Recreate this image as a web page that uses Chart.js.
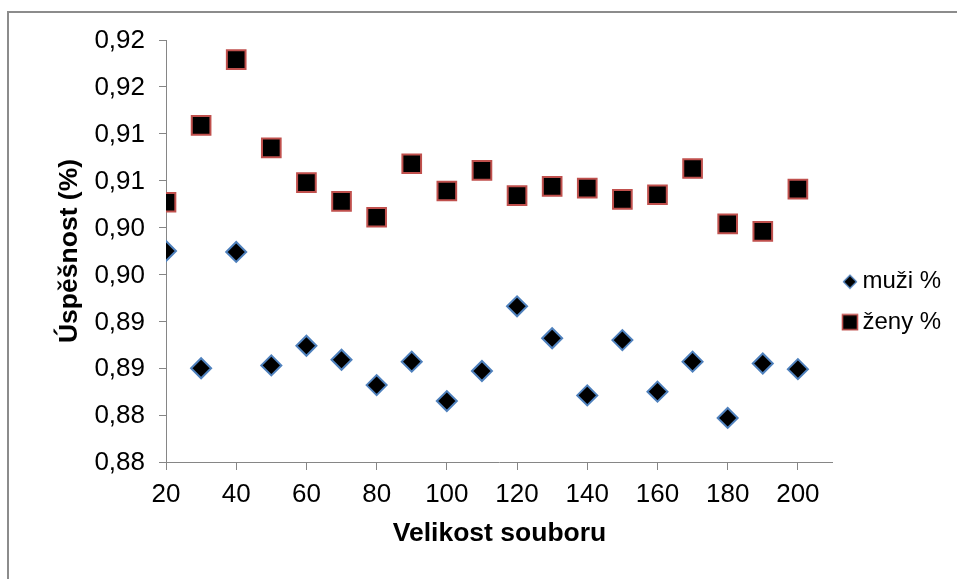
<!DOCTYPE html>
<html><head><meta charset="utf-8">
<script src="https://cdn.jsdelivr.net/npm/chart.js@4"></script>
<style>html,body{margin:0;padding:0;background:#fff;}</style>
</head><body>
<canvas id="c" width="957" height="579"></canvas>
<script>
// ---- data ----
const xValues = [20, 30, 40, 50, 60, 70, 80, 90, 100, 110, 120, 130, 140, 150, 160, 170, 180, 190, 200];
const muziValues = [0.8975, 0.8850, 0.8974, 0.8853, 0.8874, 0.8859, 0.8832, 0.8857, 0.8815, 0.8847,
                    0.8916, 0.8882, 0.8821, 0.8880, 0.8825, 0.8857, 0.8797, 0.8855, 0.8849];
const zenyValues = [0.9027, 0.9109, 0.9179, 0.9085, 0.9048, 0.9028, 0.9011, 0.9068, 0.9039, 0.9061,
                    0.9034, 0.9044, 0.9042, 0.9030, 0.9035, 0.9063, 0.9004, 0.8996, 0.9041];
const seriesNames = ['muži %', 'ženy %'];
const xTickValues = [20, 40, 60, 80, 100, 120, 140, 160, 180, 200];
const xTickLabels = ['20', '40', '60', '80', '100', '120', '140', '160', '180', '200'];
const yTickValues = [0.875, 0.880, 0.885, 0.890, 0.895, 0.900, 0.905, 0.910, 0.915, 0.920];
const yTickLabels = ['0,88', '0,88', '0,89', '0,89', '0,90', '0,90', '0,91', '0,91', '0,92', '0,92'];
const xTitle = 'Velikost souboru';
const yTitle = 'Úspěšnost (%)';

// ---- styles ----
const FONT = "'Liberation Sans', Arial, sans-serif";
const AXIS_GRAY = '#868686';
const BLUE = '#4F81BD';
const RED = '#C0504D';

function makeIcon(kind) {
  const cv = document.createElement('canvas');
  const s = kind === 'diamond' ? 16 : 18;
  cv.width = s; cv.height = s;
  const g = cv.getContext('2d');
  g.fillStyle = '#000';
  if (kind === 'diamond') {
    g.strokeStyle = BLUE; g.lineWidth = 1.3;
    g.beginPath();
    g.moveTo(1.5, 8); g.lineTo(8, 1.5); g.lineTo(14.5, 8); g.lineTo(8, 14.5); g.closePath();
    g.fill(); g.stroke();
  } else {
    g.strokeStyle = RED; g.lineWidth = 1.6;
    g.fillRect(1.5, 1.5, 15, 15);
    g.strokeRect(1.5, 1.5, 15, 15);
  }
  return cv;
}
const legendIcons = [makeIcon('diamond'), makeIcon('square')];

const borderPlugin = {
  id: 'frame',
  beforeDraw(chart) {
    const ctx = chart.ctx;
    ctx.save();
    ctx.fillStyle = '#fff';
    ctx.fillRect(0, 0, chart.width, chart.height);
    ctx.fillStyle = '#8C8C8C';
    ctx.fillRect(7, 11, chart.width - 7, 2);
    ctx.fillRect(7, 11, 2, chart.height - 11);
    ctx.restore();
  }
};

Chart.defaults.font.family = FONT;

new Chart(document.getElementById('c'), {
  type: 'scatter',
  data: {
    datasets: [
      {
        label: seriesNames[0],
        data: xValues.map((x, i) => ({x: x, y: muziValues[i]})),
        pointStyle: 'rectRot',
        pointRadius: 10,
        pointHoverRadius: 10,
        backgroundColor: '#000',
        borderColor: BLUE,
        borderWidth: 2
      },
      {
        label: seriesNames[1],
        data: xValues.map((x, i) => ({x: x, y: zenyValues[i]})),
        pointStyle: 'rect',
        pointRadius: 13.2,
        pointHoverRadius: 13.2,
        backgroundColor: '#000',
        borderColor: RED,
        borderWidth: 2
      }
    ]
  },
  options: {
    responsive: false,
    animation: false,
    devicePixelRatio: 1,
    layout: { padding: { top: 40, left: 0, right: 5.8, bottom: 15 } },
    plugins: {
      tooltip: { enabled: false },
      legend: {
        position: 'right',
        align: 'center',
        labels: {
          usePointStyle: true,
          boxWidth: 1,
          boxHeight: 16,
          padding: 16.5,
          color: '#000',
          font: { size: 24, family: FONT },
          generateLabels(chart) {
            const items = Chart.defaults.plugins.legend.labels.generateLabels(chart);
            items.forEach((it, i) => { it.pointStyle = legendIcons[i]; });
            return items;
          }
        }
      }
    },
    scales: {
      x: {
        type: 'linear',
        min: 20,
        max: 210,
        afterBuildTicks(scale) { scale.ticks = xTickValues.map(v => ({value: v})); },
        afterFit(scale) { scale.height = 102; },
        ticks: {
          callback: (v, i) => xTickLabels[i],
          autoSkip: false,
          maxRotation: 0,
          minRotation: 0,
          padding: 9,
          color: '#000',
          font: { size: 26, family: FONT }
        },
        grid: { drawOnChartArea: false, drawTicks: true, tickLength: 8, color: AXIS_GRAY, tickColor: AXIS_GRAY },
        border: { display: true, color: AXIS_GRAY, width: 1 },
        title: {
          display: true,
          text: xTitle,
          color: '#000',
          font: { size: 26.5, weight: 'bold', family: FONT },
          padding: { top: 0, bottom: 14.6 }
        }
      },
      y: {
        type: 'linear',
        min: 0.875,
        max: 0.92,
        afterBuildTicks(scale) { scale.ticks = yTickValues.map(v => ({value: v})); },
        afterFit(scale) { scale.width = 166; },
        ticks: {
          callback: (v, i) => yTickLabels[i],
          autoSkip: false,
          padding: 14,
          labelOffset: 1,
          color: '#000',
          font: { size: 26, family: FONT }
        },
        grid: { drawOnChartArea: false, drawTicks: true, tickLength: 7, color: AXIS_GRAY, tickColor: AXIS_GRAY },
        border: { display: true, color: AXIS_GRAY, width: 1 },
        title: {
          display: true,
          text: yTitle,
          color: '#000',
          font: { size: 26.5, weight: 'bold', family: FONT },
          padding: { top: 54, bottom: 0 }
        }
      }
    }
  },
  plugins: [borderPlugin]
});
</script>
</body></html>
